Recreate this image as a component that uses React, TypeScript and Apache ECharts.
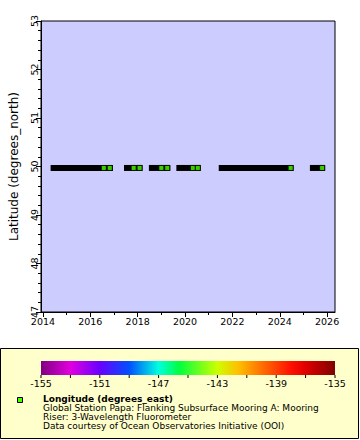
import React, { useEffect, useRef } from "react";
import * as echarts from "echarts";

const xTickYears = [2014, 2016, 2018, 2020, 2022, 2024, 2026];
const xMinorYears = [2015, 2017, 2019, 2021, 2023, 2025];
const segmentStart = [2014.45, 2017.55, 2018.6, 2019.76, 2021.55, 2025.4];
const segmentEnd = [2016.83, 2018.08, 2019.25, 2020.54, 2024.46, 2025.79];
const stationLatitude = 49.97;
const greenYears = [2016.57, 2016.82, 2017.83, 2018.08, 2019.0, 2019.25, 2020.33, 2020.54, 2024.46, 2025.79];
const colorbarTicks = [-155, -151, -147, -143, -139, -135];
const colorbarMinor = [-153, -149, -145, -141, -137];
const legendTitle = "Longitude (degrees_east)";
const legendLines = [
  "Global Station Papa: Flanking Subsurface Mooring A: Mooring",
  "Riser: 3-Wavelength Fluorometer",
  "Data courtesy of Ocean Observatories Initiative (OOI)",
];

const FONT = "DejaVu Sans";
const GREEN = "#4cff00";

export default function App() {
  const ref = useRef<HTMLDivElement>(null);
  useEffect(() => {
    const chart = echarts.init(ref.current!, null, { renderer: "svg" });
    const cbLeft = 41, cbRight = 335, cbTop = 361, cbBottom = 375;
    const cbX = (v: number) => cbLeft + ((v - colorbarTicks[0]) / (colorbarTicks[colorbarTicks.length - 1] - colorbarTicks[0])) * (cbRight - cbLeft);

    const graphics: any[] = [
      { type: "rect", shape: { x: 0.5, y: 348.5, width: 358, height: 90 }, style: { fill: "#ffffcc", stroke: "#000", lineWidth: 1 }, z: 0 },
      {
        type: "rect",
        shape: { x: cbLeft, y: cbTop, width: cbRight - cbLeft, height: cbBottom - cbTop },
        style: {
          fill: new echarts.graphic.LinearGradient(0, 0, 1, 0, [
            { offset: 0, color: "#800080" },
            { offset: 0.1, color: "#e000e0" },
            { offset: 0.2, color: "#6a00ff" },
            { offset: 0.3, color: "#0050ff" },
            { offset: 0.4, color: "#00ffe0" },
            { offset: 0.47, color: "#00ff40" },
            { offset: 0.6, color: "#ccff00" },
            { offset: 0.67, color: "#ffc000" },
            { offset: 0.75, color: "#ff7000" },
            { offset: 0.85, color: "#ff1000" },
            { offset: 0.9, color: "#e00000" },
            { offset: 1, color: "#800000" },
          ]),
        },
        z: 1,
      },
    ];
    colorbarTicks.forEach((v) => {
      graphics.push({ type: "line", shape: { x1: cbX(v), y1: cbBottom, x2: cbX(v), y2: cbBottom + 3 }, style: { stroke: "#000", lineWidth: 1 }, z: 2 });
      graphics.push({ type: "text", x: cbX(v), y: 383, style: { text: String(v), font: `9.5px '${FONT}'`, fill: "#000", align: "center", verticalAlign: "middle" }, z: 2 });
    });
    colorbarMinor.forEach((v) => {
      graphics.push({ type: "line", shape: { x1: cbX(v), y1: cbBottom, x2: cbX(v), y2: cbBottom + 3 }, style: { stroke: "#000", lineWidth: 1 }, z: 2 });
    });
    graphics.push({ type: "rect", shape: { x: 17.5, y: 397.5, width: 5, height: 5 }, style: { fill: GREEN, stroke: "#000", lineWidth: 1 }, z: 2 });
    graphics.push({ type: "text", x: 43, y: 403, style: { text: legendTitle, font: `bold 9px '${FONT}'`, fill: "#000", verticalAlign: "bottom" }, z: 2 });
    legendLines.forEach((t, i) => {
      graphics.push({ type: "text", x: 43, y: 412 + i * 9, style: { text: t, font: `9px '${FONT}'`, fill: "#000", verticalAlign: "bottom" }, z: 2 });
    });

    const segSeries = segmentStart.map((s, i) => ({
      type: "line",
      data: [[s, stationLatitude], [segmentEnd[i], stationLatitude]],
      showSymbol: false,
      symbol: "none",
      lineStyle: { color: "#000", width: 6, cap: "square" },
      silent: true,
      z: 2,
    }));

    chart.setOption({
      animation: false,
      grid: { left: 37, right: 25, top: 21, bottom: 128, show: true, backgroundColor: "#ccccff", borderColor: "#000", borderWidth: 1 },
      xAxis: [
        {
          type: "value",
          min: 2013.917,
          max: 2026.333,
          position: "bottom",
          axisLine: { show: true, lineStyle: { color: "#000" } },
          axisTick: { show: true, length: 5, lineStyle: { color: "#000" }, customValues: xTickYears },
          axisLabel: { customValues: xTickYears, color: "#000", fontFamily: FONT, fontSize: 9.5, margin: 4, formatter: (v: number) => String(Math.round(v)) },
          splitLine: { show: false },
        },
        {
          type: "value",
          min: 2013.917,
          max: 2026.333,
          position: "bottom",
          axisLine: { show: false },
          axisTick: { show: true, length: 3, lineStyle: { color: "#000" }, customValues: xMinorYears },
          axisLabel: { show: false, customValues: xMinorYears },
          splitLine: { show: false },
        },
      ],
      yAxis: {
        type: "value",
        min: 47,
        max: 53,
        interval: 1,
        name: "Latitude (degrees_north)",
        nameLocation: "middle",
        nameRotate: 90,
        nameGap: 21,
        nameTextStyle: { color: "#000", fontFamily: FONT, fontSize: 12 },
        axisLine: { show: true, lineStyle: { color: "#000" } },
        axisTick: { show: true, length: 5, lineStyle: { color: "#000" } },
        minorTick: { show: true, splitNumber: 5, length: 3, lineStyle: { color: "#000" } },
        axisLabel: { rotate: 90, color: "#000", fontFamily: FONT, fontSize: 9.5, margin: 2 },
        splitLine: { show: false },
        minorSplitLine: { show: false },
      },
      series: [
        ...segSeries,
        {
          type: "scatter",
          data: greenYears.map((y) => [y, stationLatitude]),
          symbol: "rect",
          symbolSize: 5,
          itemStyle: { color: GREEN, borderColor: "#000", borderWidth: 1 },
          z: 3,
        },
      ],
      graphic: graphics,
    });
    return () => chart.dispose();
  }, []);
  return <div ref={ref} style={{ position: "fixed", left: 0, top: 0, width: 360, height: 440, background: "#fff" }} />;
}
